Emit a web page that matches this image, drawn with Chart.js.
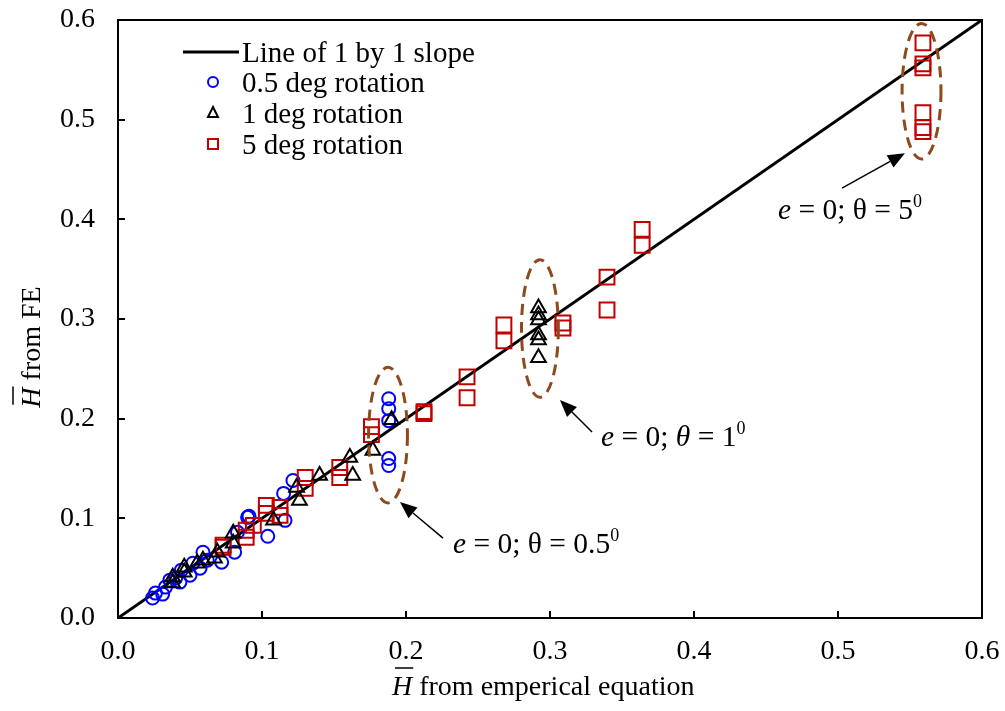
<!DOCTYPE html>
<html><head><meta charset="utf-8">
<script src="https://cdn.jsdelivr.net/npm/chart.js@4.4.0/dist/chart.umd.min.js"></script>
<style>html,body{margin:0;padding:0;background:#fff;}#wrap{width:1005px;height:711px;}</style>
</head><body><div id="wrap"><canvas id="c" width="1005" height="711"></canvas></div>
<script>
const FONT = '"Liberation Serif", "Times New Roman", serif';

// ---- data ----
const tickValues = [0, 0.1, 0.2, 0.3, 0.4, 0.5, 0.6];
const lineX = [0, 0.6];
const lineY = [0, 0.6];

const x05 = [0.024,0.026,0.031,0.033,0.036,0.040,0.043,0.044,0.050,0.052,0.057,0.059,0.062,0.072,0.081,0.083,0.090,0.091,0.104,0.116,0.115,0.1215,0.188,0.188,0.188,0.188,0.188];
const y05 = [0.020,0.025,0.024,0.031,0.038,0.040,0.036,0.048,0.043,0.055,0.050,0.066,0.058,0.056,0.066,0.086,0.101,0.102,0.082,0.098,0.125,0.138,0.220,0.210,0.198,0.160,0.153];

const x1 = [0.038,0.038,0.046,0.046,0.055,0.059,0.067,0.069,0.080,0.080,0.108,0.126,0.124,0.140,0.161,0.163,0.177,0.190,0.292,0.292,0.292,0.292,0.292,0.292];
const y1 = [0.035,0.041,0.046,0.051,0.055,0.058,0.060,0.066,0.085,0.075,0.098,0.118,0.131,0.143,0.161,0.143,0.168,0.199,0.311,0.304,0.299,0.284,0.279,0.261];

const x5 = [0.073,0.073,0.089,0.089,0.094,0.103,0.103,0.1125,0.1125,0.130,0.130,0.154,0.154,0.176,0.176,0.2125,0.2125,0.2424,0.2424,0.268,0.268,0.309,0.309,0.3396,0.3396,0.364,0.364,0.559,0.559,0.559,0.559,0.559,0.559];
const y5 = [0.073,0.071,0.081,0.088,0.093,0.113,0.105,0.111,0.103,0.141,0.130,0.151,0.141,0.192,0.184,0.207,0.205,0.242,0.221,0.294,0.278,0.296,0.291,0.342,0.309,0.390,0.374,0.577,0.556,0.552,0.507,0.492,0.488];

const legendLabels = ['Line of 1 by 1 slope', '0.5 deg rotation', '1 deg rotation', '5 deg rotation'];
const xTitle = ' from emperical equation';
const yTitle = ' from FE';

// annotation callouts (data coordinates)
const ellipses = [
  {cx:0.1875, cy:0.1835, rx:0.0135, ry:0.068},
  {cx:0.293,  cy:0.2905, rx:0.0128, ry:0.069},
  {cx:0.558,  cy:0.5286, rx:0.0135, ry:0.068}
];
const arrows = [
  {x0:0.2257, y0:0.0802, x1:0.1958, y1:0.1163},
  {x0:0.3292, y0:0.1866, x1:0.3069, y1:0.2187},
  {x0:0.5028, y0:0.4313, x1:0.5465, y1:0.4664}
];
const callouts = [
  {x:0.2326, y:0.0652, theta:'0.5', thetaItalic:false},
  {x:0.3354, y:0.1725, theta:'1',   thetaItalic:true},
  {x:0.4583, y:0.400,  theta:'5',   thetaItalic:false}
];

const pts = (xs, ys) => xs.map((x, i) => ({x, y: ys[i]}));

const BLUE = '#0000FF', RED = '#C00000', BROWN = '#8E4A1C';

function drawRich(ctx, x, y, parts, size) {
  let cx = x;
  for (const p of parts) {
    const fs = p.sup ? Math.round(size * 0.62) : size;
    ctx.font = (p.italic ? 'italic ' : '') + fs + 'px ' + FONT;
    ctx.fillText(p.t, cx, p.sup ? y - size * 0.42 : y);
    cx += ctx.measureText(p.t).width;
  }
  return cx - x;
}
function measureRich(ctx, parts, size) {
  let w = 0;
  for (const p of parts) {
    const fs = p.sup ? Math.round(size * 0.62) : size;
    ctx.font = (p.italic ? 'italic ' : '') + fs + 'px ' + FONT;
    w += ctx.measureText(p.t).width;
  }
  return w;
}

const decor = {
  id: 'decor',
  afterDraw(chart) {
    const ctx = chart.ctx, a = chart.chartArea;
    const xs = chart.scales.x, ys = chart.scales.y;
    ctx.save();
    // frame
    ctx.strokeStyle = '#000'; ctx.lineWidth = 2;
    ctx.strokeRect(a.left, a.top, a.right - a.left, a.bottom - a.top);
    // inside ticks
    for (const v of tickValues) {
      const px = Math.round(xs.getPixelForValue(v));
      ctx.beginPath(); ctx.moveTo(px, a.bottom); ctx.lineTo(px, a.bottom - 7); ctx.stroke();
      const py = Math.round(ys.getPixelForValue(v));
      ctx.beginPath(); ctx.moveTo(a.left, py); ctx.lineTo(a.left + 7, py); ctx.stroke();
    }
    ctx.fillStyle = '#000';
    ctx.textBaseline = 'alphabetic';
    ctx.textAlign = 'left';
    // x axis title
    const TS = 28;
    const xParts = [{t:'H', italic:true}, {t:xTitle}];
    const xw = measureRich(ctx, xParts, TS);
    const xStart = 392;
    const xBase = 695;
    drawRich(ctx, xStart, xBase, xParts, TS);
    ctx.font = 'italic ' + TS + 'px ' + FONT;
    const hw = ctx.measureText('H').width;
    ctx.lineWidth = 1.5;
    ctx.beginPath(); ctx.moveTo(xStart + 3, xBase - 27); ctx.lineTo(xStart + hw + 1, xBase - 27); ctx.stroke();
    // y axis title
    ctx.save();
    ctx.translate(40, 347);
    ctx.rotate(-Math.PI / 2);
    const yParts = [{t:'H', italic:true}, {t:yTitle}];
    const yw = measureRich(ctx, yParts, TS);
    drawRich(ctx, -yw / 2, 0, yParts, TS);
    ctx.beginPath(); ctx.moveTo(-yw / 2 + 3, -27); ctx.lineTo(-yw / 2 + hw + 1, -27); ctx.stroke();
    ctx.restore();

    // legend
    const LS = 29;
    ctx.font = LS + 'px ' + FONT;
    const rows = [52, 82, 113, 144];
    const tx = 242;
    ctx.strokeStyle = '#000'; ctx.lineWidth = 3;
    ctx.beginPath(); ctx.moveTo(183, rows[0]); ctx.lineTo(239, rows[0]); ctx.stroke();
    ctx.lineWidth = 2;
    ctx.strokeStyle = BLUE;
    ctx.beginPath(); ctx.arc(213, rows[1], 5, 0, Math.PI * 2); ctx.stroke();
    ctx.strokeStyle = '#000';
    ctx.beginPath(); ctx.moveTo(213, rows[2] - 6); ctx.lineTo(218, rows[2] + 4); ctx.lineTo(208, rows[2] + 4); ctx.closePath(); ctx.stroke();
    ctx.strokeStyle = RED;
    ctx.strokeRect(208, rows[3] - 5, 10, 10);
    ctx.fillStyle = '#000';
    legendLabels.forEach((t, i) => ctx.fillText(t, tx, rows[i] + 10));

    // ellipses
    ctx.strokeStyle = BROWN; ctx.lineWidth = 3; ctx.setLineDash([11, 7]);
    for (const e of ellipses) {
      const cx = xs.getPixelForValue(e.cx), cy = ys.getPixelForValue(e.cy);
      const rx = Math.abs(xs.getPixelForValue(e.cx + e.rx) - cx);
      const ry = Math.abs(ys.getPixelForValue(e.cy + e.ry) - cy);
      ctx.beginPath(); ctx.ellipse(cx, cy, rx, ry, 0, 0, Math.PI * 2); ctx.stroke();
    }
    ctx.setLineDash([]);
    // arrows
    ctx.strokeStyle = '#000'; ctx.fillStyle = '#000'; ctx.lineWidth = 1.5;
    for (const r of arrows) {
      const p0x = xs.getPixelForValue(r.x0), p0y = ys.getPixelForValue(r.y0);
      const p1x = xs.getPixelForValue(r.x1), p1y = ys.getPixelForValue(r.y1);
      const ang = Math.atan2(p1y - p0y, p1x - p0x);
      const L = 17, W = 7;
      const bx = p1x - Math.cos(ang) * L, by = p1y - Math.sin(ang) * L;
      ctx.beginPath(); ctx.moveTo(p0x, p0y); ctx.lineTo(bx, by); ctx.stroke();
      ctx.beginPath();
      ctx.moveTo(p1x, p1y);
      ctx.lineTo(bx + Math.sin(ang) * W, by - Math.cos(ang) * W);
      ctx.lineTo(bx - Math.sin(ang) * W, by + Math.cos(ang) * W);
      ctx.closePath(); ctx.fill();
    }
    // callout texts
    const AS = 29.5;
    for (const c of callouts) {
      const px = xs.getPixelForValue(c.x), py = ys.getPixelForValue(c.y);
      drawRich(ctx, px, py, [
        {t:'e', italic:true}, {t:' = 0; '}, {t:'θ', italic:c.thetaItalic},
        {t:' = ' + c.theta}, {t:'0', sup:true}
      ], AS);
    }
    ctx.restore();
  }
};

const tickFont = {family: FONT, size: 28};
function zeroPad(s) { s.paddingTop = 0; s.paddingBottom = 0; s.paddingLeft = 0; s.paddingRight = 0; }

new Chart(document.getElementById('c'), {
  type: 'scatter',
  data: {
    datasets: [
      {label: legendLabels[0], type: 'line', data: pts(lineX, lineY), borderColor: '#000', borderWidth: 3,
       pointRadius: 0, fill: false, order: 4},
      {label: legendLabels[1], data: pts(x05, y05), pointStyle: 'circle', pointRadius: 6.5,
       borderColor: BLUE, backgroundColor: 'rgba(0,0,0,0)', pointBorderWidth: 2, order: 3},
      {label: legendLabels[2], data: pts(x1, y1), pointStyle: 'triangle', pointRadius: 8.5,
       borderColor: '#000', backgroundColor: 'rgba(0,0,0,0)', pointBorderWidth: 2, order: 1},
      {label: legendLabels[3], data: pts(x5, y5), pointStyle: 'rect', pointRadius: 10.5,
       borderColor: RED, backgroundColor: 'rgba(0,0,0,0)', pointBorderWidth: 2, order: 2}
    ]
  },
  options: {
    responsive: false, animation: false, devicePixelRatio: 1,
    layout: {padding: {left: 0, top: 20, right: 23, bottom: 0}},
    plugins: {legend: {display: false}, tooltip: {enabled: false}},
    scales: {
      x: {
        type: 'linear', min: 0, max: 0.6,
        afterFit(s) { s.height = 93; zeroPad(s); },
        afterBuildTicks(s) { s.ticks = tickValues.map(v => ({value: v})); },
        ticks: {callback: v => v.toFixed(1), font: tickFont, color: '#000', padding: 17, maxRotation: 0, autoSkip: false},
        grid: {drawOnChartArea: false, drawTicks: false},
        border: {display: false}
      },
      y: {
        type: 'linear', min: 0, max: 0.6,
        afterFit(s) { s.width = 118; zeroPad(s); },
        afterBuildTicks(s) { s.ticks = tickValues.map(v => ({value: v})); },
        ticks: {callback: v => v.toFixed(1), font: tickFont, color: '#000', padding: 23, autoSkip: false},
        grid: {drawOnChartArea: false, drawTicks: false},
        border: {display: false}
      }
    }
  },
  plugins: [decor]
});
</script></body></html>
